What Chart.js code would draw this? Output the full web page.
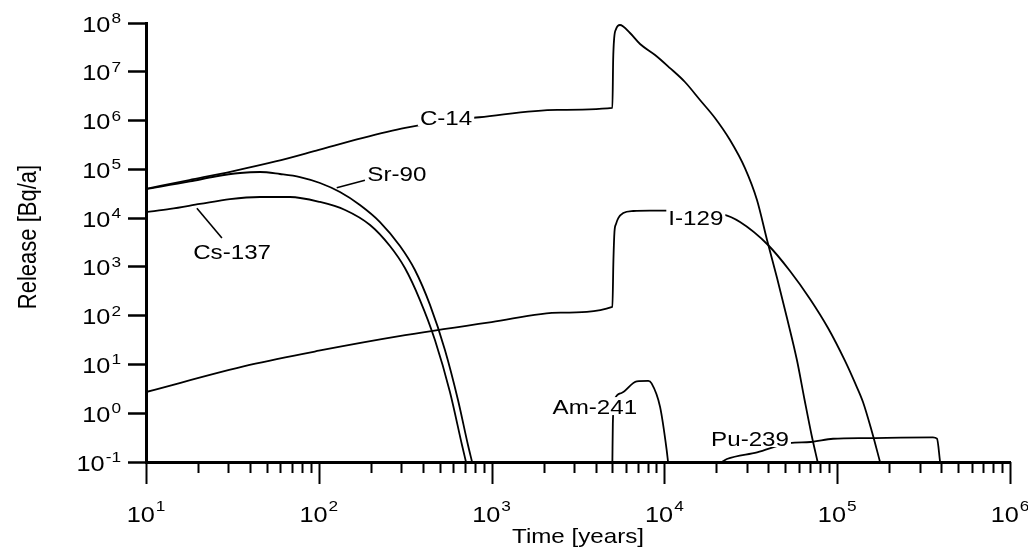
<!DOCTYPE html>
<html>
<head>
<meta charset="utf-8">
<script src="https://cdn.jsdelivr.net/npm/chart.js@4.4.1/dist/chart.umd.min.js"></script>
<style>
  html, body { margin: 0; padding: 0; background: #fff; }
  canvas { display: block; }
</style>
</head>
<body>
<canvas id="chart" width="1028" height="555"></canvas>
<script>
// Release rates (Bq/a) of six radionuclides against time (years)
const seriesNames = ['C-14', 'Sr-90', 'Cs-137', 'I-129', 'Am-241', 'Pu-239'];

const c14Years   = [10, 17.8, 31.6, 56.2, 100, 178, 316, 562, 851, 2400, 5000, 5052, 5121, 5248, 5530, 6325, 7230, 8830, 10780, 13150, 16070, 19620, 23970, 29260, 34340, 39260, 44870, 51220, 58470, 64760, 71060, 77060];
const c14Release = [3.98e4, 6.03e4, 9.12e4, 1.45e5, 2.51e5, 4.37e5, 7.08e5, 1.0e6, 1.17e6, 1.66e6, 1.82e6, 1.74e7, 4.9e7, 7.5e7, 9.1e7, 6.24e7, 3.71e7, 2.21e7, 1.19e7, 6.17e6, 2.64e6, 1.13e6, 3.99e5, 1.06e5, 2.35e4, 3.56e3, 593, 89.6, 12.3, 1.87, 0.358, 0.1];

const sr90Years   = [10, 18.0, 25.1, 35.0, 45.7, 59.6, 77.8, 101.6, 132.6, 173, 226, 295, 360, 440, 537, 639, 730, 771];
const sr90Release = [3.95e4, 5.64e4, 7.13e4, 8.41e4, 8.81e4, 8.02e4, 6.96e4, 5.25e4, 3.43e4, 1.86e4, 8.32e3, 2.68e3, 863, 166, 19.8, 1.87, 0.223, 0.1];

const cs137Years   = [10, 13.8, 20.5, 30.6, 45.7, 68.1, 101.6, 142, 198, 258, 315, 385, 470, 574, 674, 711];
const cs137Release = [1.33e4, 1.54e4, 1.95e4, 2.46e4, 2.71e4, 2.71e4, 2.14e4, 1.47e4, 7.22e3, 2.68e3, 948, 209, 31.7, 2.72, 0.223, 0.1];

const i129Years   = [10, 39.8, 100, 316, 1000, 2512, 5000, 5070, 5140, 5248, 5410, 5780, 6610, 8250, 10350, 15000, 21800, 27400, 39800, 53300, 69600, 88500, 111000, 126800, 141000, 159000, 177000];
const i129Release = [2.72, 9.77, 19.1, 39.8, 74.1, 115, 151, 1380, 5190, 7570, 1.0e4, 1.27e4, 1.40e4, 1.43e4, 1.43e4, 1.33e4, 1.19e4, 8.3e3, 2.81e3, 824, 220, 55.8, 11.8, 4.17, 1.70, 0.412, 0.1];

const am241Years   = [5000, 5030, 5150, 5650, 6920, 8070, 8430, 9440, 10300, 10500];
const am241Release = [0.1, 0.6, 1.9, 2.6, 4.5, 4.6, 4.1, 1.35, 0.18, 0.1];

const pu239Years   = [21500, 23000, 34400, 53000, 70000, 94600, 148600, 358000, 378000, 394000];
const pu239Release = [0.1, 0.115, 0.158, 0.245, 0.257, 0.30, 0.31, 0.32, 0.30, 0.1];

// Axis decades (tick labels are 10 raised to these exponents)
const xTickExponents = [1, 2, 3, 4, 5, 6];
const yTickExponents = [-1, 0, 1, 2, 3, 4, 5, 6, 7, 8];

const xTitle = 'Time [years]';
const yTitle = 'Release [Bq/a]';

// Curve label placement, in data space (years, Bq/a)
const labelPlacement = {
  'C-14':   { at: [545, 1.17e6] },
  'Sr-90':  { at: [283, 8.4e4], leader: [[127, 4.2e4], [185, 6.0e4]] },
  'Cs-137': { at: [31.5, 2.1e3], leader: [[19.7, 1.6e4], [27.5, 3.9e3]] },
  'I-129':  { at: [1.52e4, 1.05e4] },
  'Am-241': { at: [3960, 1.4] },
  'Pu-239': { at: [3.13e4, 0.31] }
};

const seriesYears = [c14Years, sr90Years, cs137Years, i129Years, am241Years, pu239Years];
const seriesRelease = [c14Release, sr90Release, cs137Release, i129Release, am241Release, pu239Release];

const FONT = '"Liberation Sans", Arial, Helvetica, sans-serif';
const STRETCH = 1.15;

function textWidth(ctx, text, size) {
  ctx.save();
  ctx.font = size + 'px ' + FONT;
  const w = ctx.measureText(text).width * STRETCH;
  ctx.restore();
  return w;
}

function drawText(ctx, text, x, baseline, size, align) {
  const w = textWidth(ctx, text, size);
  const left = align === 'right' ? x - w : align === 'center' ? x - w / 2 : x;
  ctx.save();
  ctx.font = size + 'px ' + FONT;
  ctx.fillStyle = '#000';
  ctx.textAlign = 'left';
  ctx.textBaseline = 'alphabetic';
  ctx.translate(left, baseline);
  ctx.scale(STRETCH, 1);
  ctx.fillText(text, 0, 0);
  ctx.restore();
  return w;
}

const BASE_SIZE = 22, EXP_SIZE = 15;

function powerLabelWidth(ctx, exp) {
  return textWidth(ctx, '10', BASE_SIZE) + 1 + textWidth(ctx, String(exp), EXP_SIZE);
}

function drawPowerLabel(ctx, exp, left, baseBaseline, expBaseline) {
  const wBase = drawText(ctx, '10', left, baseBaseline, BASE_SIZE, 'left');
  drawText(ctx, String(exp), left + wBase + 1, expBaseline, EXP_SIZE, 'left');
}

const axisDecorations = {
  id: 'axisDecorations',
  afterDraw(chart) {
    const ctx = chart.ctx;
    const xs = chart.scales.x, ys = chart.scales.y;
    const axisY = chart.chartArea.bottom;

    // x tick marks: long at decades, short in between
    ctx.save();
    ctx.strokeStyle = '#000';
    ctx.lineWidth = 2;
    xs.ticks.forEach(t => {
      const px = Math.round(xs.getPixelForValue(t.value)) + 0.5;
      const len = t.major ? 22 : 11;
      ctx.beginPath();
      ctx.moveTo(px, axisY);
      ctx.lineTo(px, axisY + len);
      ctx.stroke();
    });
    ctx.restore();

    // x tick labels
    xTickExponents.forEach(e => {
      const px = xs.getPixelForValue(Math.pow(10, e));
      const w = powerLabelWidth(ctx, e);
      drawPowerLabel(ctx, e, px - w / 2, 522, 511);
    });

    // y tick labels, right aligned
    yTickExponents.forEach(e => {
      const py = ys.getPixelForValue(Math.pow(10, e));
      const w = powerLabelWidth(ctx, e);
      drawPowerLabel(ctx, e, 121 - w, py + 8.5, py);
    });

    // axis titles
    drawText(ctx, xTitle, (chart.chartArea.left + chart.chartArea.right) / 2, 543, 21, 'center');
    ctx.save();
    ctx.font = '22px ' + FONT;
    ctx.fillStyle = '#000';
    ctx.translate(36, 237);
    ctx.rotate(-Math.PI / 2);
    ctx.scale(1, STRETCH);
    ctx.textAlign = 'center';
    ctx.textBaseline = 'alphabetic';
    ctx.fillText(yTitle, 0, 0);
    ctx.restore();
  },
  afterDatasetsDraw(chart) {
    const ctx = chart.ctx;
    const xs = chart.scales.x, ys = chart.scales.y;
    const LABEL_SIZE = 21;
    seriesNames.forEach(name => {
      const p = labelPlacement[name];
      if (p.leader) {
        ctx.save();
        ctx.strokeStyle = '#000';
        ctx.lineWidth = 1.6;
        ctx.beginPath();
        ctx.moveTo(xs.getPixelForValue(p.leader[0][0]), ys.getPixelForValue(p.leader[0][1]));
        ctx.lineTo(xs.getPixelForValue(p.leader[1][0]), ys.getPixelForValue(p.leader[1][1]));
        ctx.stroke();
        ctx.restore();
      }
      const cx = xs.getPixelForValue(p.at[0]);
      const cy = ys.getPixelForValue(p.at[1]);
      const w = textWidth(ctx, name, LABEL_SIZE);
      ctx.save();
      ctx.fillStyle = '#fff';
      ctx.fillRect(cx - w / 2 - 2, cy - 9, w + 4, 18);
      ctx.restore();
      drawText(ctx, name, cx, cy + 7.5, LABEL_SIZE, 'center');
    });
  }
};

const datasets = seriesNames.map((name, i) => ({
  label: name,
  data: seriesYears[i].map((t, j) => ({ x: t, y: seriesRelease[i][j] })),
  borderColor: '#000',
  borderWidth: 1.8,
  pointRadius: 0,
  fill: false,
  cubicInterpolationMode: 'monotone'
}));

new Chart(document.getElementById('chart'), {
  type: 'line',
  data: { datasets },
  options: {
    responsive: false,
    devicePixelRatio: 1,
    animation: false,
    layout: { padding: { top: 23, right: 18, bottom: 0, left: 0 } },
    plugins: { legend: { display: false }, tooltip: { enabled: false } },
    scales: {
      x: {
        type: 'logarithmic',
        min: 10,
        max: 1e6,
        afterBuildTicks(scale) {
          const ticks = [];
          xTickExponents.forEach(e => {
            for (let k = 1; k <= 9; k++) {
              const v = k * Math.pow(10, e);
              if (v <= 1e6) ticks.push({ value: v, major: k === 1 });
            }
          });
          scale.ticks = ticks;
        },
        afterFit(scale) { scale.height = 93; },
        ticks: { display: false },
        grid: { display: true, drawOnChartArea: false, drawTicks: false },
        border: { display: true, color: '#000', width: 3 }
      },
      y: {
        type: 'logarithmic',
        min: 0.1,
        max: 1e8,
        afterBuildTicks(scale) {
          scale.ticks = yTickExponents.map(e => ({ value: Math.pow(10, e), major: true }));
        },
        afterFit(scale) { scale.width = 146; },
        ticks: { display: false },
        grid: { display: true, drawOnChartArea: false, drawTicks: true, tickLength: 18, tickWidth: 2.5, tickColor: '#000' },
        border: { display: true, color: '#000', width: 3 }
      }
    }
  },
  plugins: [axisDecorations]
});
</script>
</body>
</html>
